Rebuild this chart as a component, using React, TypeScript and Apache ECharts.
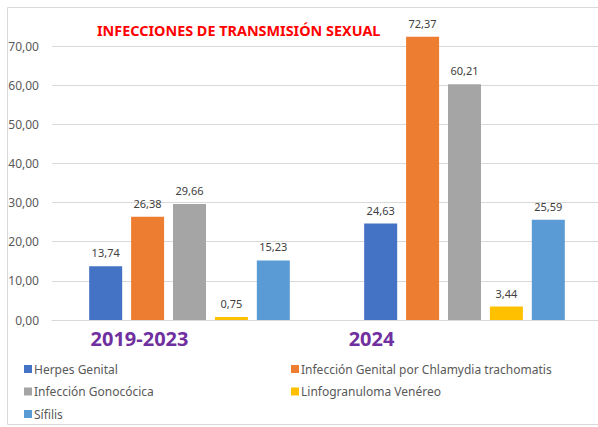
import React, { useEffect, useRef } from "react";
import * as echarts from "echarts";

const title = "INFECCIONES DE TRANSMISIÓN SEXUAL";
const categories = ["2019-2023", "2024"];
const seriesNames = [
  "Herpes Genital",
  "Infección Genital por Chlamydia trachomatis",
  "Infección Gonocócica",
  "Linfogranuloma Venéreo",
  "Sífilis",
];
const herpes = [13.74, 24.63];
const chlamydia = [26.38, 72.37];
const gonococica = [29.66, 60.21];
const linfogranuloma = [0.75, 3.44];
const sifilis = [15.23, 25.59];
const seriesValues = [herpes, chlamydia, gonococica, linfogranuloma, sifilis];
const colors = ["#4472C4", "#ED7D31", "#A5A5A5", "#FFC000", "#5B9BD5"];

const fmt = (v: number) => v.toFixed(2).replace(".", ",");

export default function App() {
  const ref = useRef<HTMLDivElement>(null);
  useEffect(() => {
    if (!ref.current) return;
    const chart = echarts.init(ref.current, null, { renderer: "svg" });
    const font = "'Noto Sans', 'Open Sans', sans-serif";
    const legendText = {
      color: "#595959",
      fontSize: 12,
      lineHeight: 14,
      fontFamily: font,
      padding: [0, 0, 0, -3],
    };
    chart.setOption({
      animation: false,
      textStyle: { fontFamily: font },
      graphic: [
        {
          type: "rect",
          shape: { x: 7.5, y: 7.5, width: 640, height: 417 },
          style: { fill: "none", stroke: "#d9d9d9", lineWidth: 1 },
          silent: true,
        },
        {
          type: "text",
          left: 97,
          top: 23,
          style: {
            text: title,
            fill: "#FF0000",
            font: `bold 14.4px ${font}`,
          },
        },
      ],
      grid: { left: 52, right: 8, top: 46, bottom: 107, containLabel: false },
      xAxis: {
        type: "category",
        data: categories,
        axisTick: { show: false },
        axisLine: { lineStyle: { color: "#d9d9d9", width: 1 } },
        axisLabel: {
          margin: 8,
          formatter: (v: string, i: number) => (i === 0 ? `{a|${v}}` : `{b|${v}}`),
          rich: {
            a: {
              fontFamily: font,
              fontWeight: "bold",
              fontSize: 20,
              color: "#7030A0",
              padding: [0, 100, 0, 0],
            },
            b: {
              fontFamily: font,
              fontWeight: "bold",
              fontSize: 20,
              color: "#7030A0",
              padding: [0, 186, 0, 0],
            },
          },
        },
      },
      yAxis: {
        type: "value",
        min: 0,
        max: 70,
        interval: 10,
        axisLine: { show: false },
        axisTick: { show: false },
        splitLine: { lineStyle: { color: "#d9d9d9", width: 1 } },
        axisLabel: {
          formatter: (v: number) => fmt(v),
          color: "#595959",
          fontSize: 12,
          margin: 13,
          fontFamily: font,
        },
      },
      legend: [
        {
          left: 24,
          top: 362,
          padding: 0,
          orient: "vertical",
          icon: "rect",
          itemWidth: 8,
          itemHeight: 8,
          itemGap: 8.5,
          data: [seriesNames[0], seriesNames[2], seriesNames[4]],
          textStyle: legendText,
        },
        {
          left: 291,
          top: 362,
          padding: 0,
          orient: "vertical",
          icon: "rect",
          itemWidth: 8,
          itemHeight: 8,
          itemGap: 8.5,
          data: [seriesNames[1], seriesNames[3]],
          textStyle: legendText,
        },
      ],
      series: seriesNames.map((name, i) => ({
        name,
        type: "bar",
        data: seriesValues[i],
        barWidth: 33,
        barGap: "27%",
        clip: false,
        itemStyle: { color: colors[i] },
        label: {
          show: true,
          position: "top",
          distance: 8,
          color: "#404040",
          fontSize: 11,
          fontFamily: font,
          formatter: (p: any) => fmt(p.value),
        },
      })),
    });
    return () => chart.dispose();
  }, []);
  return (
    <div style={{ position: "fixed", left: 0, top: 0, width: 598, height: 427, overflow: "hidden", background: "#fff" }}>
      <div ref={ref} style={{ width: 610, height: 427 }} />
    </div>
  );
}
